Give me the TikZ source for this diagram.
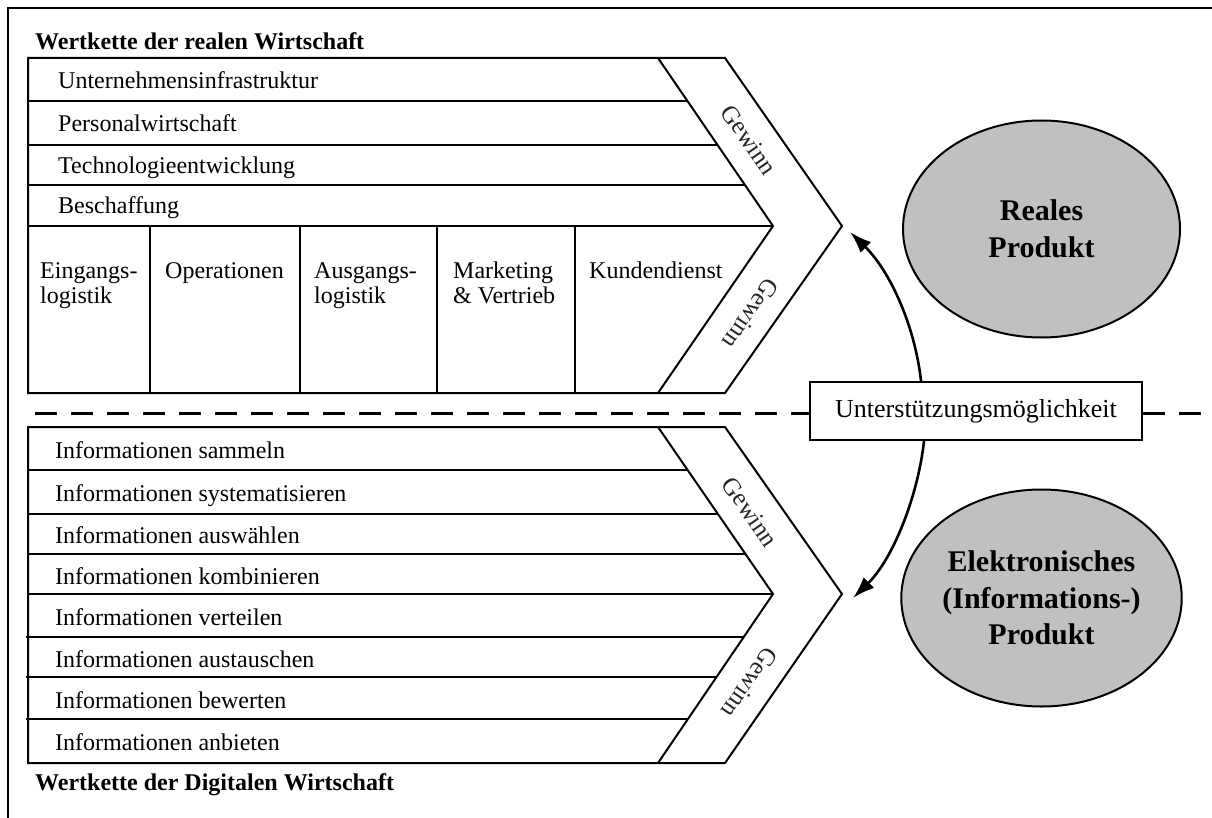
\documentclass[tikz,border=0pt]{standalone}
\usepackage{fontspec}
\setmainfont{Liberation Serif}
\usetikzlibrary{shapes.geometric,arrows.meta}
\definecolor{prodgray}{HTML}{C0C0C0}

\begin{document}
\begin{tikzpicture}[x=1pt,y=-1pt,
  frame/.style={line width=2.2pt},
  boxline/.style={line width=2pt, line join=miter},
  rowtext/.style={anchor=base west, inner sep=0pt, font=\fontsize{24}{28}\selectfont},
  coltext/.style={anchor=base west, inner sep=0pt, align=left, font=\fontsize{24}{25.5}\selectfont},
  chaintitle/.style={anchor=base west, inner sep=0pt, font=\bfseries\fontsize{24}{28}\selectfont},
  gain/.style={inner sep=0pt, text=black!85, font=\fontsize{25}{28}\selectfont},
  product/.style={ellipse, draw, line width=2pt, fill=prodgray, minimum width=277pt,
    minimum height=217pt, inner sep=0pt, align=center,
    font=\bfseries\fontsize{30}{36.5}\selectfont},
  supportbox/.style={draw, fill=white, line width=2pt, minimum width=332pt,
    minimum height=58pt, inner sep=0pt, font=\fontsize{26}{30}\selectfont},
  link/.style={line width=2.6pt, -{Latex[length=22pt,width=15pt]}},
  separator/.style={line width=3pt, dash pattern=on 22pt off 14pt}
]
\useasboundingbox (0,0) rectangle (1212,818);

% outer frame (top and left edges only)
\draw[frame] (1212,8) -- (8,8) -- (8,818);

% ---------- value chain of the real economy ----------
\node[chaintitle] (titleReal) at (35,50) {Wertkette der realen Wirtschaft};

\draw[boxline] (28,58) -- (725,58) -- (842,226) -- (725,393) -- (28,393) -- cycle;
\draw[boxline] (658,58) -- (773,226) -- (658,393);
% support activities
\draw[boxline] (28,101) -- (687.4,101);
\draw[boxline] (28,145) -- (717.6,145);
\draw[boxline] (28,185) -- (744.9,185);
\draw[boxline] (28,226) -- (773,226);
\coordinate (realTip) at (842,226);

\node[rowtext] (u1) at (58,89)  {Unternehmensinfrastruktur};
\node[rowtext] (u2) at (58,132) {Personalwirtschaft};
\node[rowtext] (u3) at (58,174) {Technologieentwicklung};
\node[rowtext] (u4) at (58,214) {Beschaffung};

% primary activities (base anchor sits on the last line)
\foreach \x in {150,300,437,575} \draw[boxline] (\x,226) -- (\x,393);
\node[coltext] (p1) at (40,303.5)  {Eingangs-\\logistik};
\node[coltext] (p2) at (165,278)   {Operationen};
\node[coltext] (p3) at (314,303.5) {Ausgangs-\\logistik};
\node[coltext] (p4) at (453,303.5) {Marketing\\\& Vertrieb};
\node[coltext] (p5) at (589,278)   {Kundendienst};

\node[gain, rotate=-55.5]  (g1) at (749,140) {Gewinn};
\node[gain, rotate=-124.5] (g2) at (751,314) {Gewinn};

% ---------- value chain of the digital economy ----------
\draw[boxline] (28,427) -- (725,427) -- (842,594) -- (725,763) -- (28,763) -- cycle;
\draw[boxline] (658,427) -- (773,594) -- (658,763);
\draw[boxline] (28,470) -- (687.6,470);
\draw[boxline] (28,514) -- (717.9,514);
\draw[boxline] (28,554) -- (745.5,554);
\draw[boxline] (28,594) -- (773,594);
\draw[boxline] (26,637) -- (743.7,637);
\draw[boxline] (26,677) -- (716.5,677);
\draw[boxline] (26,719) -- (688,719);
\coordinate (digiTip) at (842,594);

\node[rowtext] (i1) at (55,458) {Informationen sammeln};
\node[rowtext] (i2) at (55,501) {Informationen systematisieren};
\node[rowtext] (i3) at (55,543) {Informationen auswählen};
\node[rowtext] (i4) at (55,584) {Informationen kombinieren};
\node[rowtext] (i5) at (55,625) {Informationen verteilen};
\node[rowtext] (i6) at (55,667) {Informationen austauschen};
\node[rowtext] (i7) at (55,708) {Informationen bewerten};
\node[rowtext] (i8) at (55,750) {Informationen anbieten};

\node[gain, rotate=-55.5]  (g3) at (750,512) {Gewinn};
\node[gain, rotate=-124.5] (g4) at (750,683) {Gewinn};

\node[chaintitle] (titleDigi) at (35,790) {Wertkette der Digitalen Wirtschaft};

% ---------- products ----------
\node[product] (real) at (1041.5,229) {Reales\\Produkt};
\node[product] (digi) at (1041.5,598) {Elektronisches\\(Informations-)\\Produkt};

% ---------- separator and support link ----------
\node[supportbox] (support) at (976,411) {Unterstützungsmöglichkeit};
\draw[separator] (35,413) -- (support.west |- 0,413);
\draw[separator] (support.east |- 0,413) -- (1204,413);

\coordinate (upEnd) at (850,232);
\coordinate (downEnd) at (853,598);
\draw[link] ([xshift=112pt]support.north west) .. controls (915,326) and (890,271) .. (upEnd);
\draw[link] ([xshift=115pt]support.south west) .. controls (918,496) and (893,559) .. (downEnd);
\end{tikzpicture}
\end{document}
